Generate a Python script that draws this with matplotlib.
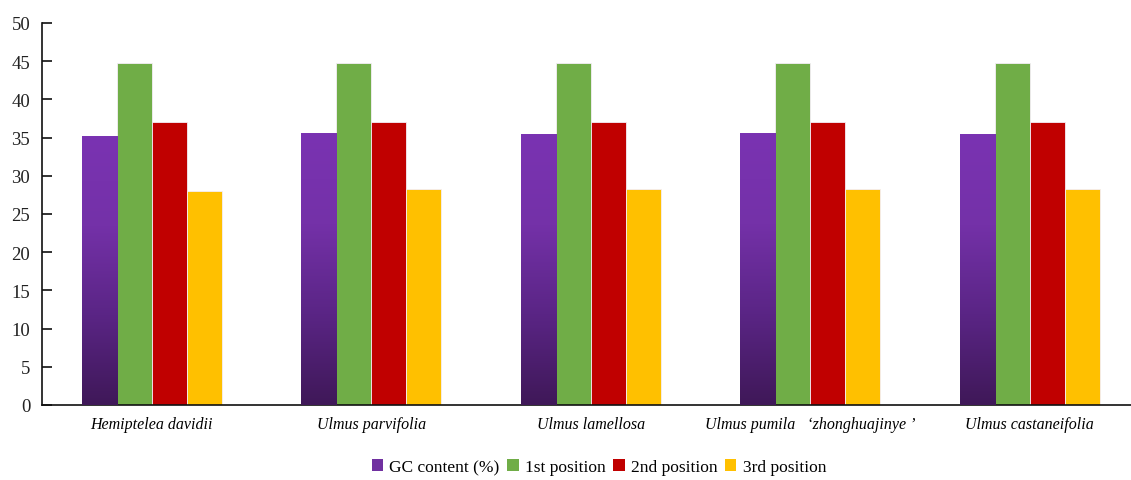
import numpy as np
import matplotlib
matplotlib.use("Agg")
import matplotlib.pyplot as plt
from matplotlib.colors import LinearSegmentedColormap
from matplotlib.patches import Patch

plt.rcParams['font.family'] = ['Liberation Serif', 'DejaVu Serif']

species = ["Hemiptelea davidii", "Ulmus parvifolia", "Ulmus lamellosa",
           "Ulmus pumila   \u2018zhonghuajinye \u2019", "Ulmus castaneifolia"]
gc_content = [35.2, 35.6, 35.4, 35.6, 35.4]
pos1 = [44.7, 44.7, 44.7, 44.7, 44.7]
pos2 = [37.1, 37.1, 37.1, 37.1, 37.1]
pos3 = [28.0, 28.3, 28.3, 28.3, 28.3]
series_names = ["GC content (%)", "1st position", "2nd position", "3rd position"]
y_ticks = list(range(0, 51, 5))

colors = ["#7030A0", "#70AD47", "#C00000", "#FFC000"]
purple_grad = LinearSegmentedColormap.from_list(
    "purple_grad", ["#3F1858", "#5A2585", "#7431A8", "#7A33B2"])

fig = plt.figure(figsize=(11.31, 4.81), dpi=100)
ax = fig.add_axes([42 / 1131, (481 - 406) / 481, (1131 - 42) / 1131, (406 - 24) / 481])

x = np.arange(len(species))
w = 0.16
series = [gc_content, pos1, pos2, pos3]
bar_groups = []
for i, (vals, c) in enumerate(zip(series, colors)):
    bars = ax.bar(x + (i - 1.5) * w, vals, width=w, color=c,
                  edgecolor="#f4eef6", linewidth=0.6, zorder=2)
    bar_groups.append(bars)

# vertical gradient fill for the GC content bars
grad = np.linspace(0, 1, 256).reshape(-1, 1)
for b in bar_groups[0]:
    x0, h, bw = b.get_x(), b.get_height(), b.get_width()
    ax.imshow(grad, extent=[x0, x0 + bw, 0, h], origin="lower",
              aspect="auto", cmap=purple_grad, zorder=3)

ax.set_xlim(-0.5, (1131 - 42) / 219.5 - 0.5)
ax.set_ylim(0, 50)
ax.set_yticks(y_ticks)
ax.set_yticklabels([str(t) for t in y_ticks], fontsize=13.5)
ax.set_xticks(x)
ax.set_xticklabels(species, fontsize=11.5, style="italic", va="baseline")
ax.tick_params(axis="x", length=0, pad=16.5)
ax.tick_params(axis="y", length=7, width=1.2, direction="in", pad=8.5,
               colors="#111111", labelcolor="#222222")
for s in ["top", "right"]:
    ax.spines[s].set_visible(False)
for s in ["left", "bottom"]:
    ax.spines[s].set_linewidth(1.2)
    ax.spines[s].set_color("#111111")

handles = [Patch(facecolor=c, edgecolor="none") for c in colors]
fig.legend(handles, series_names, loc="center", bbox_to_anchor=(599 / 1131, 1 - 468 / 481),
           ncol=4, frameon=False, fontsize=12.5, handlelength=0.65, handleheight=0.65,
           handletextpad=0.35, columnspacing=0.45)

fig.savefig("out.png", dpi=100)
